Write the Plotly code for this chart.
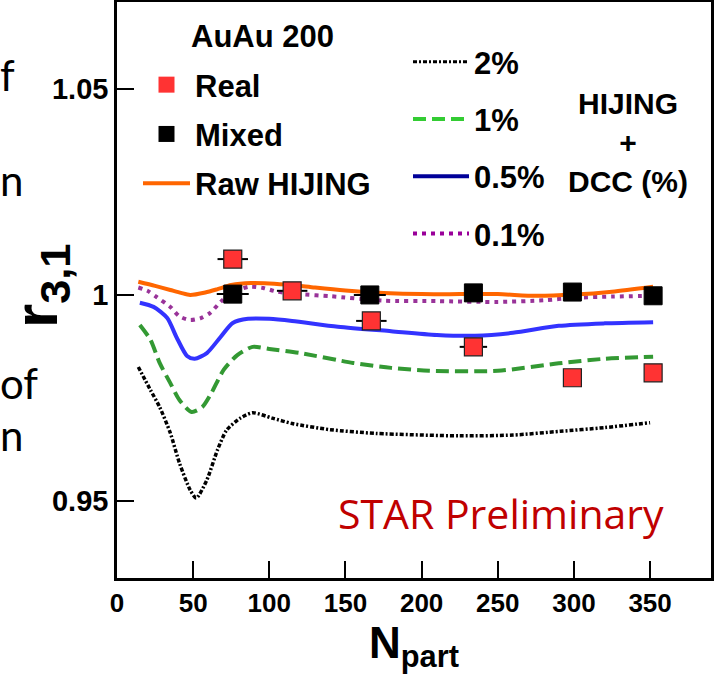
import plotly.graph_objects as go

# ---------------- data ----------------
npart_real = [76, 115, 167, 234, 299, 352]
r31_real = [1.0087, 1.0010, 0.9937, 0.9874, 0.9799, 0.9811]
xerr_real = [10, 10, 10, 9, 6, 0]

npart_mixed = [76, 166, 234, 299, 352]
r31_mixed = [1.0002, 1.0000, 1.0005, 1.0007, 0.9998]
xerr_mixed = [10.5, 10.5, 0, 0, 0]

npart_raw = [14, 25, 35, 42, 48, 58, 66, 75, 88, 100, 115, 130, 150, 175, 200, 225, 250, 275, 300, 325, 352]
r31_raw = [1.0032, 1.0022, 1.0012, 1.0005, 1.0000, 1.0006, 1.0014, 1.0024, 1.0029, 1.0028, 1.0024,
           1.0018, 1.0011, 1.0005, 1.0002, 1.0002, 1.0002, 0.9998, 1.0001, 1.0008, 1.0020]

npart_dcc01 = [14, 20, 26, 35, 41, 48, 55, 61, 68, 75, 87, 96, 105, 120, 140, 175, 210, 250, 280, 300, 325, 352]
r31_dcc01 = [1.0018, 1.0010, 0.9995, 0.9971, 0.9948, 0.9939, 0.9944, 0.9956, 0.9983, 1.0005, 1.0020,
             1.0017, 1.0008, 1.0002, 0.9997, 0.9986, 0.9985, 0.9983, 0.9987, 0.9993, 0.9996, 0.9998]

npart_dcc05 = [15, 24, 33, 39, 46, 51, 59, 68, 76, 86, 100, 115, 145, 180, 210, 235, 260, 290, 320, 352]
r31_dcc05 = [0.9981, 0.9971, 0.9944, 0.9898, 0.9852, 0.9845, 0.9859, 0.9898, 0.9932, 0.9942, 0.9942,
             0.9937, 0.9923, 0.9912, 0.9903, 0.9901, 0.9908, 0.9925, 0.9931, 0.9934]

npart_dcc1 = [15, 22, 28, 35, 41, 49, 56, 62, 70, 79, 89, 100, 120, 155, 180, 205, 250, 290, 320, 352]
r31_dcc1 = [0.9927, 0.9891, 0.9835, 0.9786, 0.9745, 0.9716, 0.9728, 0.9762, 0.9818, 0.9854, 0.9874,
            0.9869, 0.9859, 0.9835, 0.9823, 0.9816, 0.9816, 0.9834, 0.9845, 0.9850]

npart_dcc2 = [14, 22, 28, 35, 41, 48, 52, 59, 66, 72, 81, 89, 102, 115, 140, 170, 225, 260, 291, 320, 350]
r31_dcc2 = [0.9825, 0.9769, 0.9728, 0.9665, 0.9592, 0.9527, 0.9507, 0.9551, 0.9624, 0.9672, 0.9701,
            0.9714, 0.9701, 0.9688, 0.9673, 0.9664, 0.9658, 0.9660, 0.9669, 0.9678, 0.9690]

x_ticks = [0, 50, 100, 150, 200, 250, 300, 350]
y_ticks = [0.95, 1.0, 1.05]
y_ticktext = ["0.95", "1", "1.05"]

# ---------------- styling ----------------
W, H = 715, 674
ML, MR, MT, MB = 117, 4, 2, 96
PW, PH = W - ML - MR, H - MT - MB


def px(xp):
    return (xp - ML) / PW


def py(yp):
    return (H - MB - yp) / PH


BOLD = "Liberation Sans"
HUMAN = "Lato"

fig = go.Figure()

curve_specs = [
    (npart_dcc2, r31_dcc2, "#000000", 3.5, "4px,2px,2px,2px"),
    (npart_dcc1, r31_dcc1, "#339933", 4, "13px,6px"),
    (npart_dcc05, r31_dcc05, "#3333FF", 4, "solid"),
    (npart_dcc01, r31_dcc01, "#993399", 4, "4px,5px"),
    (npart_raw, r31_raw, "#FF6600", 4, "solid"),
]
for xs, ys, col, w, dash in curve_specs:
    fig.add_trace(go.Scatter(x=xs, y=ys, mode="lines", showlegend=False,
                             line=dict(color=col, width=w, dash=dash, shape="spline", smoothing=0.7)))

fig.add_trace(go.Scatter(x=npart_mixed, y=r31_mixed, mode="markers", showlegend=False,
                         marker=dict(symbol="square", size=18, color="#000000",
                                     line=dict(color="#000000", width=1)),
                         error_x=dict(type="data", array=xerr_mixed, color="black", thickness=2, width=0)))
fig.add_trace(go.Scatter(x=npart_real, y=r31_real, mode="markers", showlegend=False,
                         marker=dict(symbol="square", size=18, color="#FF3333",
                                     line=dict(color="#222222", width=1.2)),
                         error_x=dict(type="data", array=xerr_real, color="black", thickness=2, width=0)))

# ---------------- legend entries ----------------
fig.add_trace(go.Scatter(x=[None], y=[None], mode="markers", name="Real", legend="legend",
                         legendgroup="a", marker=dict(symbol="square", size=16, color="#FF3333")))
fig.add_trace(go.Scatter(x=[None], y=[None], mode="markers", name="Mixed", legend="legend",
                         legendgroup="b", marker=dict(symbol="square", size=16, color="#000000")))
fig.add_trace(go.Scatter(x=[None], y=[None], mode="lines", name="Raw HIJING", legend="legend",
                         legendgroup="c", line=dict(color="#FF6600", width=4)))

fig.add_trace(go.Scatter(x=[None], y=[None], mode="lines", name="2%", legend="legend2",
                         legendgroup="d", line=dict(color="#000000", width=3, dash="4px,2px,2px,2px")))
fig.add_trace(go.Scatter(x=[None], y=[None], mode="lines", name="1%", legend="legend2",
                         legendgroup="e", line=dict(color="#33CC33", width=4, dash="13px,6px")))
fig.add_trace(go.Scatter(x=[None], y=[None], mode="lines", name="0.5%", legend="legend2",
                         legendgroup="f", line=dict(color="#000099", width=4)))
fig.add_trace(go.Scatter(x=[None], y=[None], mode="lines", name="0.1%", legend="legend2",
                         legendgroup="g", line=dict(color="#990099", width=4, dash="4px,5px")))

legend_font = dict(family=BOLD, size=31, color="black", weight="bold")

fig.update_layout(
    width=W, height=H,
    margin=dict(l=ML, r=MR, t=MT, b=MB, pad=0),
    paper_bgcolor="white", plot_bgcolor="white",
    showlegend=True,
    legend=dict(x=px(138), y=py(58), xanchor="left", yanchor="top",
                bgcolor="rgba(0,0,0,0)", font=legend_font, itemwidth=47,
                traceorder="grouped", tracegroupgap=6),
    legend2=dict(x=px(408), y=py(35), xanchor="left", yanchor="top",
                 bgcolor="rgba(0,0,0,0)", font=legend_font, itemwidth=56,
                 traceorder="grouped", tracegroupgap=14),
    xaxis=dict(range=[0, 390], tickvals=x_ticks, ticks="inside", ticklen=17, tickwidth=1.5,
               tickcolor="black", showline=True, mirror=True, linecolor="black", linewidth=2.5,
               showgrid=False, zeroline=False, automargin=False,
               tickfont=dict(family=BOLD, size=26, color="black", weight="bold"),
               title=dict(text="N<sub>part</sub>", standoff=0,
                          font=dict(family=BOLD, size=44, color="black", weight="bold"))),
    yaxis=dict(range=[0.9313, 1.0711], tickvals=y_ticks, ticktext=y_ticktext, ticks="inside",
               ticklen=17, tickwidth=1.5, tickcolor="black", showline=True, mirror=True,
               linecolor="black", linewidth=2.5, showgrid=False, zeroline=False, automargin=False,
               tickfont=dict(family=BOLD, size=29, color="black", weight="bold")),
)

annotations = [
    dict(text="AuAu 200", x=px(262), y=py(37), font=dict(family=BOLD, size=31, color="black", weight="bold")),
    dict(text="HIJING<br>+<br>DCC (%)", x=px(628), y=py(143),
         font=dict(family=BOLD, size=30, color="black", weight="bold")),
    dict(text="STAR Preliminary", x=px(501), y=py(513), font=dict(family="Open Sans", size=41, color="#C00000")),
    dict(text="r<sub>3,1</sub>", x=px(40), y=py(286), textangle=-90,
         font=dict(family=BOLD, size=62, color="black", weight="bold")),
]
for a in annotations:
    a.update(xref="paper", yref="paper", showarrow=False, xanchor="center", yanchor="middle")
    fig.add_annotation(**a)

# cut-off slide text at the left edge
for txt, ycen in [("f", 75), ("n", 180), ("of", 383), ("n", 435)]:
    fig.add_annotation(text=txt, x=px(-2), y=py(ycen), xref="paper", yref="paper", showarrow=False,
                       xanchor="left", yanchor="middle",
                       font=dict(family=HUMAN, size=42, color="black"))

fig.write_html("out.html", config={"displayModeBar": False},
               post_script="document.body.style.margin='0px';")
